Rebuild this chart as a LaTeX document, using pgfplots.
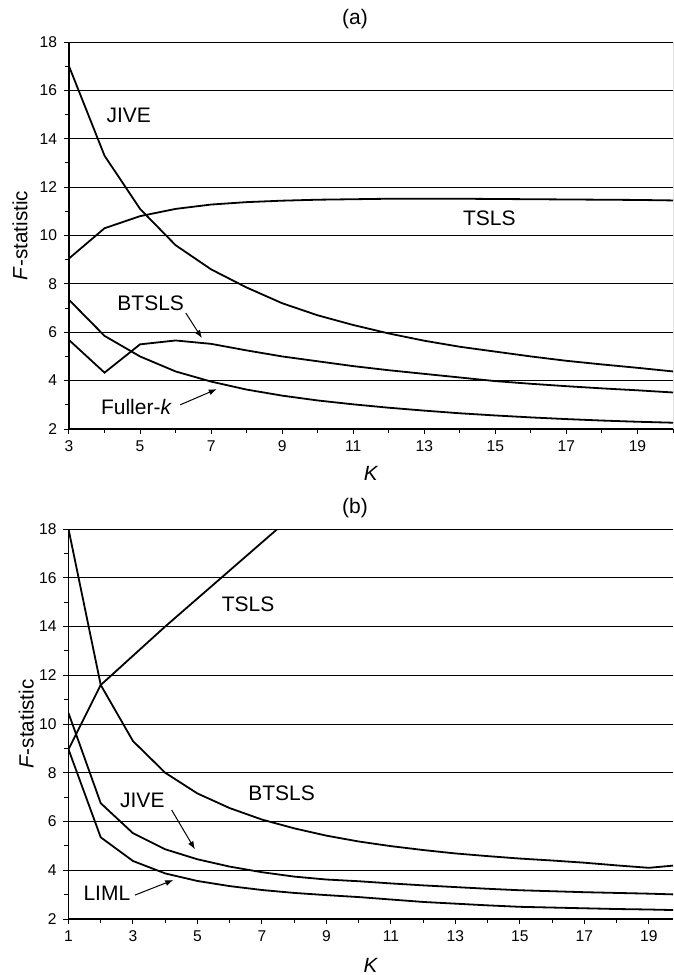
\documentclass[border=0pt]{standalone}
\usepackage{fontspec}
\setmainfont{Liberation Sans}
\usepackage{pgfplots}
\pgfplotsset{compat=1.18}
\usetikzlibrary{arrows.meta}
\tikzset{
 lbl/.style={font=\fontsize{10.5}{12}\selectfont},
 arr/.style={-{Latex[length=4pt,width=3pt]}, line width=0.5pt},
 crv/.style={black, line width=0.9pt, mark=none},
}
\pgfplotsset{
 myaxis/.style={
  scale only axis,
  anchor=south west,
  ymin=2, ymax=18,
  ytick={2,4,...,18},
  minor ytick={3,5,...,17},
  ymajorgrids,
  major grid style={black, line width=0.5pt},
  axis x line*=bottom,
  axis y line*=left,
  axis line style={line width=0.9pt},
  tick align=outside,
  major tick length=2.5pt, minor tick length=2pt,
  every tick/.style={black, line width=0.5pt},
  /pgf/number format/assume math mode=true,
  tick label style={font=\fontsize{7.8}{9}\selectfont},
  label style={font=\fontsize{10.3}{12}\selectfont},
  clip=true,
 },
}

\begin{document}
\begin{tikzpicture}
\path[use as bounding box] (0,0) rectangle (337pt,-487.5pt);
% ---------------- panel (a) ----------------
\begin{axis}[myaxis,
  at={(34.5pt,-214.5pt)},
  width=302pt, height=193.5pt,
  xmin=3, xmax=20,
  xtick={3,5,...,19},
  minor xtick={4,6,...,20},
  xlabel={\textit{K}},
  ylabel={\textit{F}-statistic},
  xlabel style={at={(axis description cs:0.5,0)}, anchor=center, yshift=-22pt},
  ylabel style={at={(axis description cs:-0.081,0.5)}, anchor=center},
]
\addplot[crv] coordinates {(3,17.0) (4,13.3) (5,11.1) (6,9.6) (7,8.6) (8,7.85) (9,7.2) (10,6.7) (11,6.3) (12,5.95) (13,5.65) (14,5.4) (15,5.2) (16,5.0) (17,4.82) (18,4.67) (19,4.53) (20,4.38)};
\addplot[crv] coordinates {(3,9.05) (4,10.3) (5,10.8) (6,11.1) (7,11.28) (8,11.38) (9,11.44) (10,11.48) (11,11.5) (12,11.52) (13,11.52) (14,11.52) (15,11.51) (16,11.5) (17,11.49) (18,11.48) (19,11.47) (20,11.45)};
\addplot[crv] coordinates {(3,5.68) (4,4.33) (5,5.5) (6,5.66) (7,5.52) (8,5.25) (9,5.0) (10,4.8) (11,4.6) (12,4.43) (13,4.28) (14,4.13) (15,3.98) (16,3.87) (17,3.77) (18,3.68) (19,3.6) (20,3.51)};
\addplot[crv] coordinates {(3,7.34) (4,5.85) (5,5.0) (6,4.38) (7,3.96) (8,3.63) (9,3.38) (10,3.18) (11,3.02) (12,2.88) (13,2.76) (14,2.65) (15,2.56) (16,2.48) (17,2.41) (18,2.35) (19,2.3) (20,2.26)};
\draw[line width=0.5pt] (rel axis cs:1,0) -- (rel axis cs:1,1);
\node[lbl] at (axis cs:4.68,14.97) {JIVE};
\node[lbl] at (axis cs:14.83,10.73) {TSLS};
\node[lbl] at (axis cs:5.3,7.21) {BTSLS};
\node[lbl] at (axis cs:4.9,2.93) {Fuller-\textit{k}};
\draw[arr] (axis cs:6.29,6.79) -- (axis cs:6.74,5.76);
\draw[arr] (axis cs:6.13,3.0) -- (axis cs:7.16,3.65);
\end{axis}
\node[lbl] at (177.5pt,-9.5pt) {(a)};
% ---------------- panel (b) ----------------
\begin{axis}[myaxis,
  at={(34.25pt,-459.5pt)},
  width=302.25pt, height=195pt,
  xmin=1, xmax=19.75,
  xtick={1,3,...,19},
  minor xtick={2,4,...,18},
  xlabel={\textit{K}},
  ylabel={\textit{F}-statistic},
  xlabel style={at={(axis description cs:0.5,0)}, anchor=center, yshift=-23pt},
  ylabel style={at={(axis description cs:-0.070,0.5)}, anchor=center},
]
\addplot[crv] coordinates {(1,8.96) (2,11.6) (3,12.8) (4,14.0) (5,15.15) (6,16.3) (7,17.45) (8,18.6)};
\addplot[crv] coordinates {(1,18.0) (2,11.6) (3,9.3) (4,8.0) (5,7.15) (6,6.55) (7,6.08) (8,5.72) (9,5.42) (10,5.18) (11,4.99) (12,4.83) (13,4.69) (14,4.58) (15,4.48) (16,4.4) (17,4.31) (18,4.2) (19,4.1) (20,4.22)};
\addplot[crv] coordinates {(1,10.45) (2,6.75) (3,5.52) (4,4.86) (5,4.45) (6,4.15) (7,3.92) (8,3.74) (9,3.62) (10,3.55) (11,3.46) (12,3.38) (13,3.31) (14,3.24) (15,3.18) (16,3.14) (17,3.1) (18,3.07) (19,3.04) (20,3.0)};
\addplot[crv] coordinates {(1,8.96) (2,5.35) (3,4.38) (4,3.87) (5,3.56) (6,3.35) (7,3.19) (8,3.07) (9,2.98) (10,2.9) (11,2.8) (12,2.7) (13,2.63) (14,2.56) (15,2.5) (16,2.47) (17,2.44) (18,2.41) (19,2.39) (20,2.36)};
\node[lbl] at (axis cs:6.57,14.9) {TSLS};
\node[lbl] at (axis cs:7.61,7.15) {BTSLS};
\node[lbl] at (axis cs:3.29,6.88) {JIVE};
\node[lbl] at (axis cs:2.19,3.05) {LIML};
\draw[arr] (axis cs:4.2,6.47) -- (axis cs:4.92,4.86);
\draw[arr] (axis cs:3.06,2.98) -- (axis cs:4.25,3.6);
\end{axis}
\node[lbl] at (177.5pt,-254pt) {(b)};
\end{tikzpicture}
\end{document}
